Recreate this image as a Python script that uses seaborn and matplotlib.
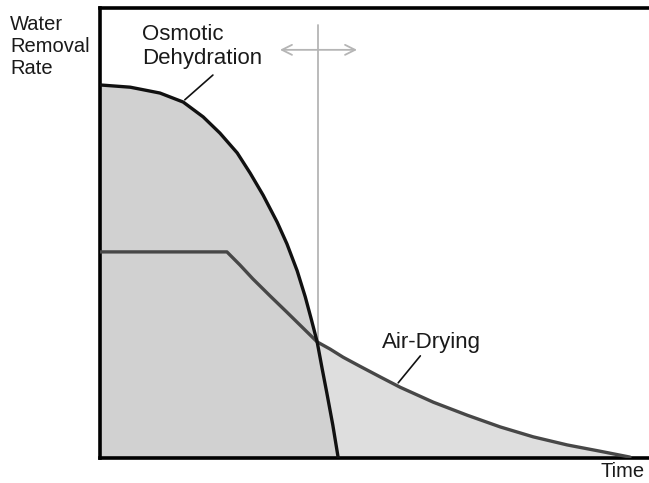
import matplotlib
matplotlib.use("Agg")
import matplotlib.pyplot as plt
import seaborn as sns
import pandas as pd

# curves (time, rate in arbitrary units)
osmotic_time = [0.00, 0.56, 1.11, 1.54, 1.91, 2.22, 2.54, 2.78, 3.02, 3.28,
                3.46, 3.65, 3.80, 3.91, 4.02, 4.11, 4.20, 4.31, 4.41]
osmotic_rate = [8.29, 8.24, 8.11, 7.91, 7.58, 7.22, 6.78, 6.33, 5.84, 5.24,
                4.76, 4.16, 3.58, 3.09, 2.58, 2.00, 1.44, 0.73, 0.00]

air_time = [0.00, 2.35, 2.59, 2.83, 3.15, 3.46, 3.74, 4.02, 4.26, 4.50,
            4.81, 5.19, 5.56, 6.17, 6.80, 7.41, 8.02, 8.65, 9.26, 9.81]
air_rate = [4.58, 4.58, 4.29, 3.98, 3.60, 3.24, 2.91, 2.58, 2.42, 2.24,
            2.04, 1.80, 1.57, 1.24, 0.95, 0.69, 0.47, 0.29, 0.15, 0.02]

osm = pd.DataFrame({"Time": osmotic_time, "Rate": osmotic_rate})
air = pd.DataFrame({"Time": air_time, "Rate": air_rate})

sns.set_style("white")
plt.rcParams["font.family"] = ["Liberation Sans", "DejaVu Sans"]

fig = plt.figure(figsize=(6.49, 4.83), dpi=100)
ax = fig.add_axes([100 / 649, 25 / 483, 551 / 649, 450 / 483])
ax.set_xlim(0, 10.2)
ax.set_ylim(0, 10)

# fills: air-drying lighter, osmotic darker on top
ax.fill_between(air["Time"], air["Rate"], color="#dedede", lw=0, zorder=1)
ax.fill_between(osm["Time"], osm["Rate"], color="#d1d1d1", lw=0, zorder=2)

# crossover marker
ax.plot([4.04, 4.04], [2.58, 9.62], color="#b5b5b5", lw=1.3, zorder=2.5)
ax.annotate("", xy=(3.28, 9.07), xytext=(4.81, 9.07),
            arrowprops=dict(arrowstyle="<->", color="#b5b5b5", lw=1.3,
                            mutation_scale=18))

sns.lineplot(data=air, x="Time", y="Rate", sort=False, color="#474747",
             lw=2.4, ax=ax, zorder=3)
sns.lineplot(data=osm, x="Time", y="Rate", sort=False, color="#111111",
             lw=2.4, ax=ax, zorder=4)
for ln in ax.lines:
    ln.set_solid_joinstyle("round")

# labels with leader lines
ax.text(0.78, 9.14, "Osmotic\nDehydration", fontsize=16, color="#1a1a1a",
        ha="left", va="center", linespacing=1.2)
ax.plot([1.57, 2.09], [7.96, 8.51], color="#111111", lw=1.2)
ax.text(5.22, 2.56, "Air-Drying", fontsize=16, color="#1a1a1a",
        ha="left", va="center")
ax.plot([5.52, 5.93], [1.67, 2.27], color="#111111", lw=1.2)

ax.text(9.26, -0.31, "Time", fontsize=14.5, color="#1a1a1a",
        ha="left", va="center", clip_on=False)
fig.text(10 / 649, 1 - 47 / 483, "Water\nRemoval\nRate", fontsize=14.5,
         color="#1a1a1a", ha="left", va="center", linespacing=1.2)

ax.set_xlabel("")
ax.set_ylabel("")
ax.set_xticks([])
ax.set_yticks([])
for side in ["left", "top", "bottom"]:
    ax.spines[side].set_color("black")
    ax.spines[side].set_linewidth(2.6)
ax.spines["right"].set_visible(False)

fig.savefig("out.png", dpi=100)
